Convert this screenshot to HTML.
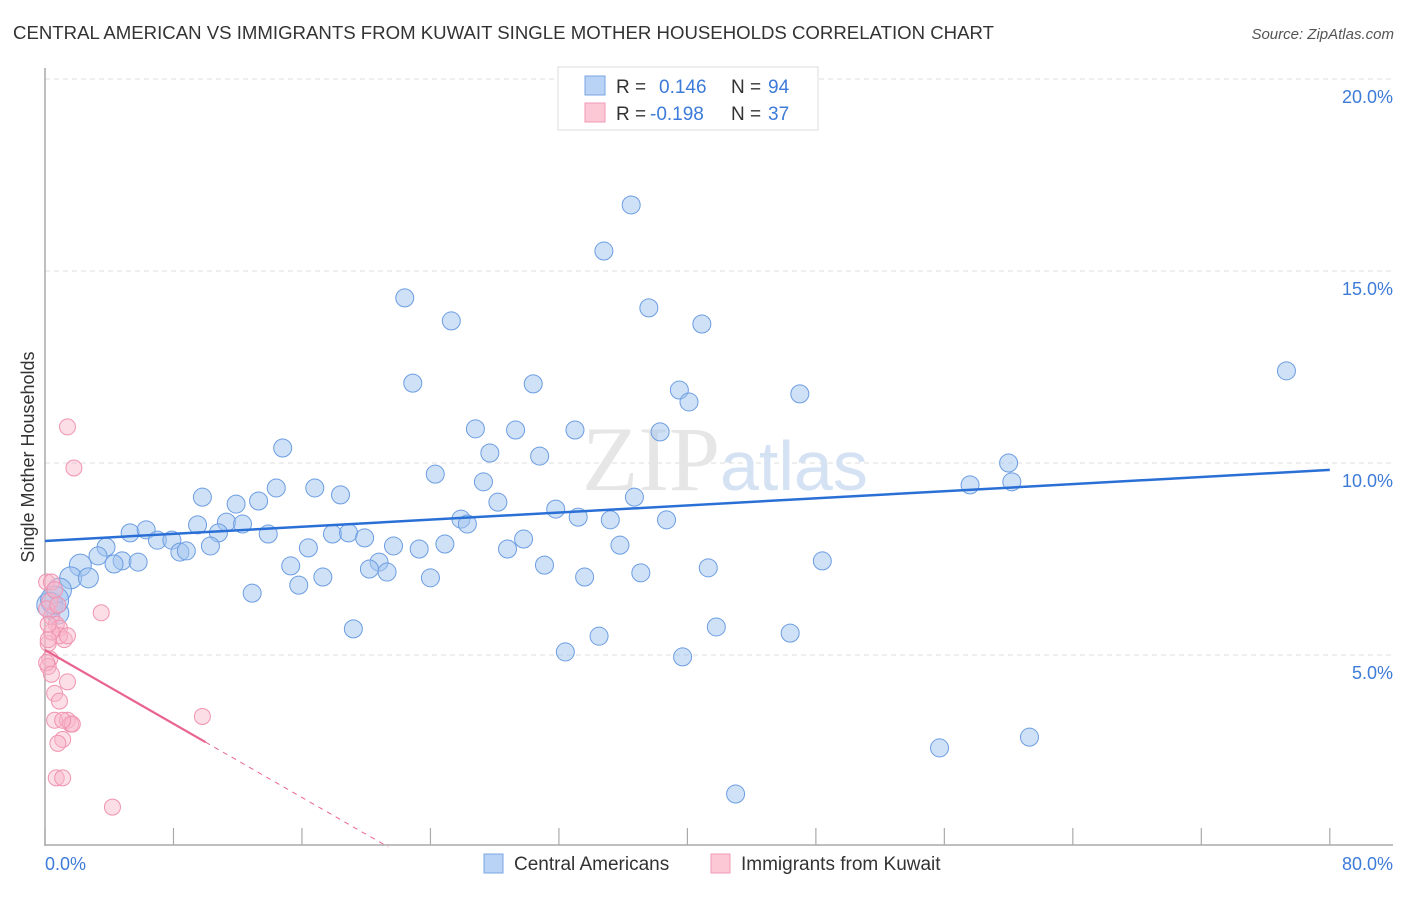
<!DOCTYPE html>
<html><head><meta charset="utf-8"><style>
body{margin:0;background:#fff;font-family:"Liberation Sans",sans-serif;}
</style></head><body>
<svg width="1406" height="892" xmlns="http://www.w3.org/2000/svg">
<text x="13" y="39" font-size="18.5" fill="#333" textLength="981" lengthAdjust="spacingAndGlyphs">CENTRAL AMERICAN VS IMMIGRANTS FROM KUWAIT SINGLE MOTHER HOUSEHOLDS CORRELATION CHART</text>
<text x="1394" y="39" font-size="15" fill="#555" font-style="italic" text-anchor="end">Source: ZipAtlas.com</text>
<g id="grid"></g>
<text x="720" y="490" font-size="92" fill="#e6e6e6" text-anchor="end" font-family="Liberation Serif,serif">ZIP</text>
<text x="720" y="490" font-size="70" fill="#d4e2f4">atlas</text>
<line x1="45" y1="68" x2="45" y2="846" stroke="#aaa" stroke-width="1.5"/>
<line x1="45" y1="845" x2="1393" y2="845" stroke="#aaa" stroke-width="1.5"/>
<g id="ticks"></g>
<g id="pts"></g>
<g id="trend"></g>
<text x="34" y="457" font-size="18" fill="#333" text-anchor="middle" transform="rotate(-90 34 457)">Single Mother Households</text>
<text x="45" y="870" font-size="18" fill="#3d7bd9">0.0%</text>
<text x="1393" y="870" font-size="18" fill="#3d7bd9" text-anchor="end">80.0%</text>
<g>
<rect x="484" y="854" width="19" height="19" fill="#b8d3f5" stroke="#7aa5e3"/>
<text x="514" y="870" font-size="19" fill="#333">Central Americans</text>
<rect x="711" y="854" width="19" height="19" fill="#fcc8d6" stroke="#f09ab4"/>
<text x="741" y="870" font-size="19" fill="#333">Immigrants from Kuwait</text>
</g>
<g>
<rect x="558" y="67" width="260" height="63" fill="#fff" stroke="#ddd"/>
<rect x="585" y="76" width="20" height="19" fill="#b8d3f5" stroke="#7aa5e3"/>
<rect x="585" y="103" width="20" height="19" fill="#fcc8d6" stroke="#f09ab4"/>
<text x="616" y="93" font-size="19" fill="#333">R = <tspan x="659" fill="#3d7bd9">0.146</tspan><tspan x="731">N = </tspan><tspan x="768" fill="#3d7bd9">94</tspan></text>
<text x="616" y="120" font-size="19" fill="#333">R = <tspan x="650" fill="#3d7bd9">-0.198</tspan><tspan x="731">N = </tspan><tspan x="768" fill="#3d7bd9">37</tspan></text>
</g>
</svg>
<script>
const yTicks=[5,10,15,20];
const yTickLabels=["5.0%","10.0%","15.0%","20.0%"];
const xTickVals=[0,8,16,24,32,40,48,56,64,72,80];
const blueX=[36.5,34.8,22.4,25.3,37.6,40.9,22.9,30.4,39.5,40.1,47,77.3,26.8,29.3,33,38.3,14.8,27.7,30.8,24.3,60,60.2,57.6,9.8,11.9,14.4,13.3,16.8,18.4,27.3,28.2,36.7,31.8,25.9,26.3,33.2,35.2,38.7,5.3,6.3,7,7.9,9.5,11.3,12.3,10.8,13.9,17.9,18.9,19.9,29.8,8.4,8.8,10.3,16.4,21.7,23.3,24.9,28.8,35.8,3.8,3.3,4.8,5.8,4.3,15.3,20.8,20.2,21.3,31.1,41.3,48.4,17.3,24,33.6,37.1,2.2,1.6,2.7,0.9,0.3,0.8,12.9,15.8,19.2,34.5,41.8,46.4,32.4,39.7,55.7,61.3,43,0.6];
const blueY=[16.72,15.52,14.3,13.7,14.04,13.62,12.08,12.06,11.9,11.59,11.8,12.4,10.89,10.86,10.86,10.81,10.39,10.26,10.18,9.71,10,9.51,9.43,9.11,8.93,9.35,9.01,9.35,9.17,9.51,8.98,9.11,8.8,8.54,8.41,8.59,8.52,8.52,8.18,8.26,7.99,7.99,8.39,8.46,8.41,8.18,8.15,8.15,8.18,8.05,8.02,7.68,7.71,7.84,7.79,7.84,7.76,7.89,7.76,7.86,7.81,7.58,7.45,7.42,7.37,7.32,7.42,7.24,7.16,7.34,7.27,7.45,7.03,7.01,7.03,7.14,7.34,7.01,7.01,6.69,6.3,6.09,6.61,6.82,5.68,5.49,5.73,5.57,5.08,4.95,2.58,2.86,1.38,6.43];
const blueR=[9,9,9,9,9,9,9,9,9,9,9,9,9,9,9,9,9,9,9,9,9,9,9,9,9,9,9,9,9,9,9,9,9,9,9,9,9,9,9,9,9,9,9,9,9,9,9,9,9,9,9,9,9,9,9,9,9,9,9,9,9,9,9,9,9,9,9,9,9,9,9,9,9,9,9,9,11,11,10,12,13,11,9,9,9,9,9,9,9,9,9,9,9,14];
const pinkX=[1.4,1.8,0.1,0.4,0.3,3.5,0.4,0.7,0.9,1.2,0.9,1.4,0.3,0.2,1.4,0.6,0.9,0.6,1.4,1.6,1.7,1.1,0.8,0.7,1.1,9.8,4.2,0.2,0.4,0.1,0.1,0.4,0.2,0.6,0.2,1.1,0.8];
const pinkY=[10.94,9.87,6.9,6.9,6.4,6.1,6.0,5.8,5.7,5.4,5.5,5.5,4.9,4.7,4.3,4,3.8,3.3,3.3,3.2,3.2,2.8,2.7,1.8,1.8,3.4,1.04,5.3,5.6,6.2,4.8,4.5,5.4,6.7,5.8,3.3,6.3];
const blueTrend=[7.97,9.82];
const pinkTrend=[5.13,-0.24];
const SVGNS="http://www.w3.org/2000/svg";
const X=v=>45+v*16.06, Y=v=>847-v*38.4;
function mk(tag,attrs,parent){const e=document.createElementNS(SVGNS,tag);for(const k in attrs)e.setAttribute(k,attrs[k]);document.getElementById(parent).appendChild(e);return e;}
yTicks.forEach((t,i)=>{
 const l=mk('line',{x1:45,x2:1393,y1:Y(t),y2:Y(t),stroke:'#ddd','stroke-dasharray':'5,4'},'grid');
 
 
 const tx=mk('text',{x:1393,y:Y(t)+24,'font-size':18,fill:'#3d7bd9','text-anchor':'end'},'grid');
 tx.textContent=yTickLabels[i];
 
 
});
xTickVals.forEach(t=>{
 const l=mk('line',{x1:X(t),x2:X(t),y1:828,y2:845,stroke:'#aaa','stroke-width':1.2},'ticks');
 
 
});
blueX.forEach((v,i)=>{
 const c=mk('circle',{cx:X(v),cy:Y(blueY[i]),r:blueR[i],fill:'rgba(160,196,240,0.5)',stroke:'#6c9de2','stroke-width':1},'pts');
 
 
});
pinkX.forEach((v,i)=>{
 const c=mk('circle',{cx:X(v),cy:Y(pinkY[i]),r:8,fill:'rgba(248,182,202,0.45)',stroke:'#f093b0','stroke-width':1},'pts');
 
 
});
const bl=mk('line',{x1:X(0),y1:Y(blueTrend[0]),x2:X(80),y2:Y(blueTrend[1]),stroke:'#2a6fd6','stroke-width':2.5},'trend');


const pe=10, pz=-pinkTrend[0]/pinkTrend[1];
const pl=mk('line',{x1:X(0),y1:Y(pinkTrend[0]),x2:X(pe),y2:Y(pinkTrend[0]+pinkTrend[1]*pe),stroke:'#e8648f','stroke-width':2.2},'trend');


const pd=mk('line',{x1:X(pe),y1:Y(pinkTrend[0]+pinkTrend[1]*pe),x2:X(pz),y2:Y(0),stroke:'#e8648f','stroke-width':1,'stroke-dasharray':'5,5'},'trend');


</script>
</body></html>
